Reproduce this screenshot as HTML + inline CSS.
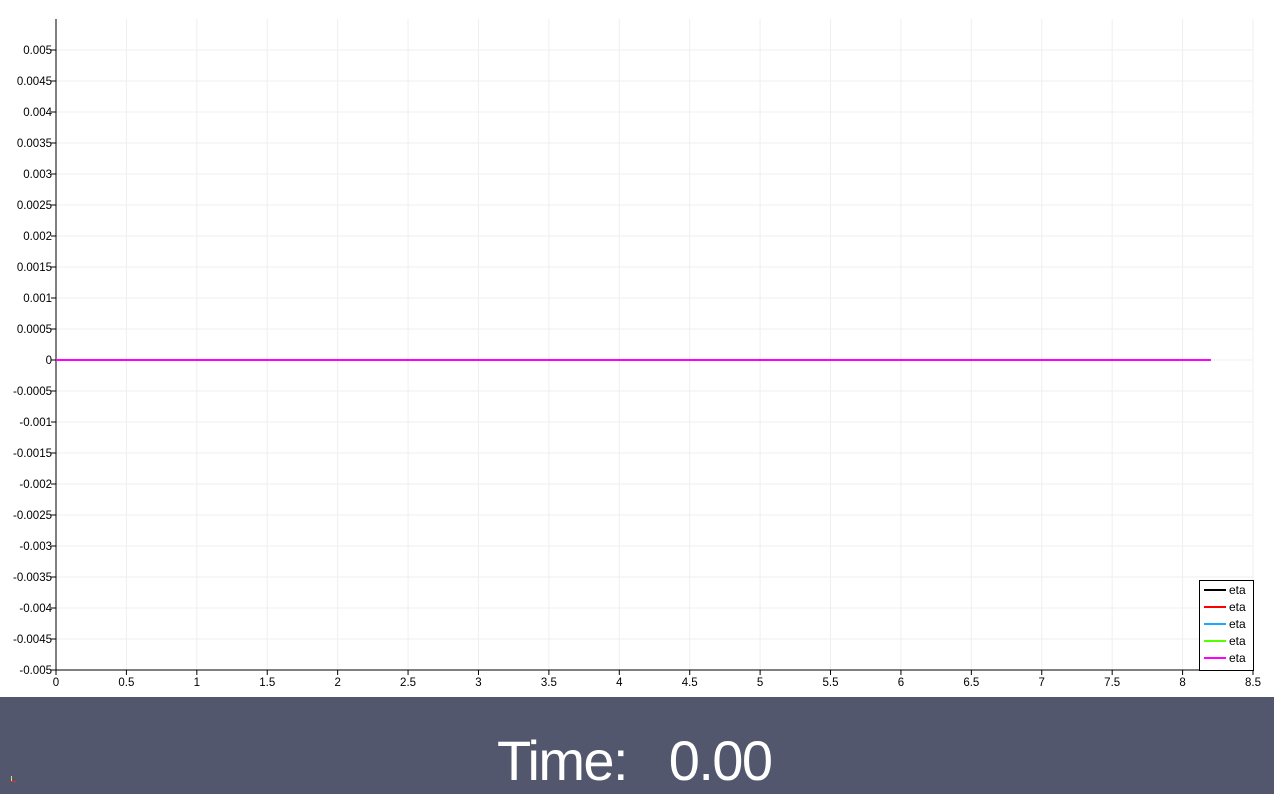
<!DOCTYPE html>
<html><head><meta charset="utf-8"><style>
html,body{margin:0;padding:0;background:#fff;width:1274px;height:794px;overflow:hidden;font-family:"Liberation Sans","DejaVu Sans",sans-serif}
#bottom{position:absolute;left:0;top:697px;width:1274px;height:97px;background:#52576e}
#time{position:absolute;left:497px;top:733px;color:#fff;font-size:56px;line-height:56px;white-space:pre;letter-spacing:-1.6px}
</style></head><body>
<svg id="chart" width="1274" height="697" style="position:absolute;left:0;top:0"></svg>
<div id="bottom"></div>
<div id="time">Time:   0.00</div>
<div style="position:absolute;left:11px;top:776px;width:1px;height:6px;background:#e8e060"></div>
<div style="position:absolute;left:11px;top:781px;width:5px;height:1px;background:#e03030"></div>
<script>
const xTicks=[0,0.5,1,1.5,2,2.5,3,3.5,4,4.5,5,5.5,6,6.5,7,7.5,8,8.5];
const yTicks=[0.005,0.0045,0.004,0.0035,0.003,0.0025,0.002,0.0015,0.001,0.0005,0,-0.0005,-0.001,-0.0015,-0.002,-0.0025,-0.003,-0.0035,-0.004,-0.0045,-0.005];
const yTickLabels=["0.005","0.0045","0.004","0.0035","0.003","0.0025","0.002","0.0015","0.001","0.0005","0","-0.0005","-0.001","-0.0015","-0.002","-0.0025","-0.003","-0.0035","-0.004","-0.0045","-0.005"];
const seriesNames=["eta","eta","eta","eta","eta"];
const seriesColors=["#000000","#ff0000","#1ea8ff","#55ff00","#ff00ff"];
const seriesX=[0,8.2];
const seriesY=[[0,0],[0,0],[0,0],[0,0],[0,0]];
const X0=56,X1=1253,Y0=670,Y1=50;
const sx=v=>X0+(v-0)/(8.5-0)*(X1-X0);
const sy=v=>Y0-(v+0.005)/0.01*(Y0-Y1);
const svg=document.getElementById('chart');const NS='http://www.w3.org/2000/svg';
function mk(t,a,p){const e=document.createElementNS(NS,t);for(const k in a)e.setAttribute(k,a[k]);(p||svg).appendChild(e);return e;}
xTicks.forEach(v=>{const x=sx(v);
 if(v>0){const g=mk('line',{x1:x,x2:x,y1:19,y2:Y0,stroke:'#efefef','stroke-width':1});
 
 }
 const t=mk('line',{x1:x,x2:x,y1:Y0,y2:Y0+5,stroke:'#000'});
 
 
 const l=mk('text',{x:x,y:Y0+16,'text-anchor':'middle','font-size':11.5,fill:'#000'});l.textContent=String(v);
 
 
});
yTicks.forEach((v,i)=>{const y=sy(v);
 if(i<yTicks.length-1){const g=mk('line',{x1:X0,x2:X1,y1:y,y2:y,stroke:'#efefef','stroke-width':1});
 
 }
 const t=mk('line',{x1:X0-5,x2:X0,y1:y,y2:y,stroke:'#000'});
 
 
 const l=mk('text',{x:X0-4,y:y+4,'text-anchor':'end','font-size':11.5,fill:'#000'});l.textContent=yTickLabels[i];
 
 
});
const ax=mk('line',{x1:X0,x2:X0,y1:19,y2:Y0,stroke:'#000','stroke-width':1});


const bx=mk('line',{x1:X0,x2:X1,y1:Y0,y2:Y0,stroke:'#000','stroke-width':1});


seriesY.forEach((ys,s)=>{const pts=seriesX.map((x,i)=>sx(x)+','+sy(ys[i])).join(' ');
 const p=mk('polyline',{points:pts,fill:'none',stroke:seriesColors[s],'stroke-width':2});
 
 
});
const lg=mk('rect',{x:1199.5,y:580.5,width:54,height:90,fill:'#fff',stroke:'#000'});


seriesNames.forEach((n,i)=>{const y=590+i*17;
 const l=mk('line',{x1:1204,x2:1226,y1:y,y2:y,stroke:seriesColors[i],'stroke-width':2});
 
 
 const t=mk('text',{x:1229,y:y+4,'font-size':12,fill:'#000'});t.textContent=n;
 
 
});
</script>
</body></html>
